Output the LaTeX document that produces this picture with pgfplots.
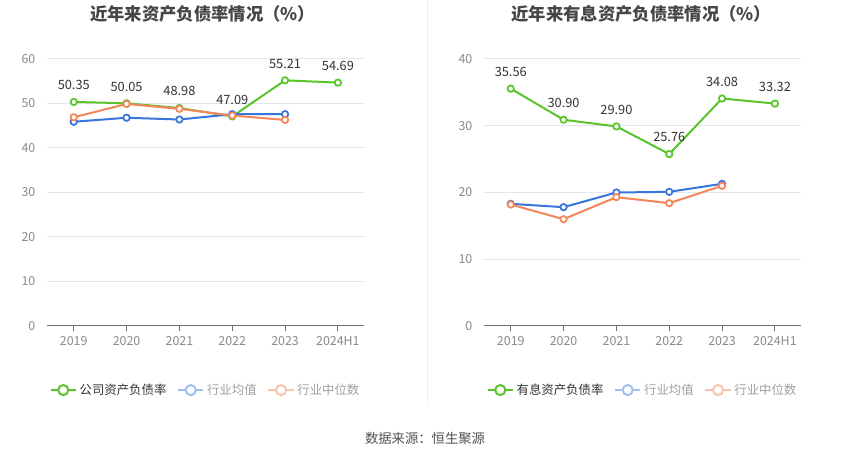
\documentclass[border=0pt]{standalone}
\usepackage{pgfplots}
\pgfplotsset{compat=1.18}
\usepackage{fontspec}
\setmainfont{Noto Sans CJK SC}
\definecolor{cgreen}{HTML}{5AC42B}
\definecolor{cblue}{HTML}{3A75DE}
\definecolor{corange}{HTML}{F4865A}
\definecolor{lblue}{HTML}{A3BFF2}
\definecolor{lorange}{HTML}{F9C3AD}
\definecolor{gridc}{HTML}{E0E6F1}
\definecolor{axisc}{HTML}{6E7079}
\definecolor{tickc}{HTML}{8A8A8A}
\definecolor{textd}{HTML}{333333}
\definecolor{titlec}{HTML}{464646}
\definecolor{legg}{HTML}{A0A0A0}

\pgfplotsset{
  base/.style={
    scale only axis, width=237.75pt, height=200.25pt,
    xmin=-0.5, xmax=5.5, xtick={0,...,5},
    xticklabels={2019,2020,2021,2022,2023,2024H1},
    ymin=0,
    axis x line=bottom, axis y line=left,
    axis line style={-},
    x axis line style={color=axisc, line width=0.75pt},
    y axis line style={draw=none},
    ytick style={draw=none},
    x tick style={color=axisc, line width=0.75pt},
    tick align=outside, major tick length=3.5pt,
    ymajorgrids, grid style={color=gridc, line width=0.75pt},
    tick label style={font=\fontsize{9.3}{10}\selectfont, color=tickc},
    /pgf/number format/assume math mode=true,
    yticklabel style={xshift=-2pt},
    xticklabel style={yshift=-1pt},
    clip=false,
    legend style={at={(0.5,-0.24)}, anchor=center, draw=none, fill=none,
      legend columns=3, font=\fontsize{9.3}{10}\selectfont,
      /tikz/every even column/.append style={column sep=6pt},
      legend cell align=left},
  },
  ser/.style={line width=1.5pt, color=#1, mark=*, mark size=2.4pt,
    mark options={fill=white, line width=1.3pt, draw=#1}},
  lg/.style={legend image code/.code={
      \draw[#1, line width=1.5pt] (0pt,0pt) -- (19pt,0pt);
      \draw[#1, line width=1.5pt, fill=white] (9.5pt,0pt) circle (3.8pt);}},
  lbl/.style={nodes near coords, point meta=explicit symbolic,
    every node near coord/.append style={font=\fontsize{9.6}{10}\selectfont,
      color=textd, anchor=center, yshift=12.5pt}},
}

\begin{document}
\begin{tikzpicture}[x=1pt,y=1pt]
\useasboundingbox (0,0) rectangle (637.5,344.25);
\fill[white] (0,0) rectangle (637.5,344.25);
\draw[color=gray!12, line width=0.75pt] (320.25,344.25) -- (320.25,40.5);

\node[font=\bfseries\fontsize{13}{14}\selectfont, color=titlec] at (152,333.5) {近年来资产负债率情况（\%）};
\node[font=\bfseries\fontsize{13}{14}\selectfont, color=titlec] at (481,333.5) {近年来有息资产负债率情况（\%）};
\node[font=\fontsize{10}{11}\selectfont, color=textd!85] at (318.75,15.5) {数据来源：恒生聚源};

\begin{axis}[base, at={(35.5pt,99.75pt)}, anchor=south west,
  ymax=60, ytick={0,10,...,60}]
\addplot[ser=cgreen, lbl, forget plot] coordinates {
  (0,50.35) [50.35] (1,50.05) [50.05] (2,48.98) [48.98]
  (3,47.09) [47.09] (4,55.21) [55.21] (5,54.69) [54.69]};
\addplot[ser=cblue, forget plot] coordinates {
  (0,45.9) (1,46.8) (2,46.4) (3,47.6) (4,47.6)};
\addplot[ser=corange, forget plot] coordinates {
  (0,46.9) (1,49.9) (2,48.8) (3,47.3) (4,46.3)};
\addlegendimage{lg=cgreen}
\addlegendentry{\textcolor{textd}{公司资产负债率}}
\addlegendimage{lg=lblue}
\addlegendentry{\textcolor{legg}{行业均值}}
\addlegendimage{lg=lorange}
\addlegendentry{\textcolor{legg}{行业中位数}}
\end{axis}

\begin{axis}[base, at={(363.25pt,99.75pt)}, anchor=south west,
  ymax=40, ytick={0,10,...,40}]
\addplot[ser=cgreen, lbl, forget plot] coordinates {
  (0,35.56) [35.56] (1,30.90) [30.90] (2,29.90) [29.90]
  (3,25.76) [25.76] (4,34.08) [34.08] (5,33.32) [33.32]};
\addplot[ser=cblue, forget plot] coordinates {
  (0,18.3) (1,17.8) (2,20.0) (3,20.1) (4,21.3)};
\addplot[ser=corange, forget plot] coordinates {
  (0,18.2) (1,16.0) (2,19.3) (3,18.4) (4,21.0)};
\addlegendimage{lg=cgreen}
\addlegendentry{\textcolor{textd}{有息资产负债率}}
\addlegendimage{lg=lblue}
\addlegendentry{\textcolor{legg}{行业均值}}
\addlegendimage{lg=lorange}
\addlegendentry{\textcolor{legg}{行业中位数}}
\end{axis}
\end{tikzpicture}
\end{document}
